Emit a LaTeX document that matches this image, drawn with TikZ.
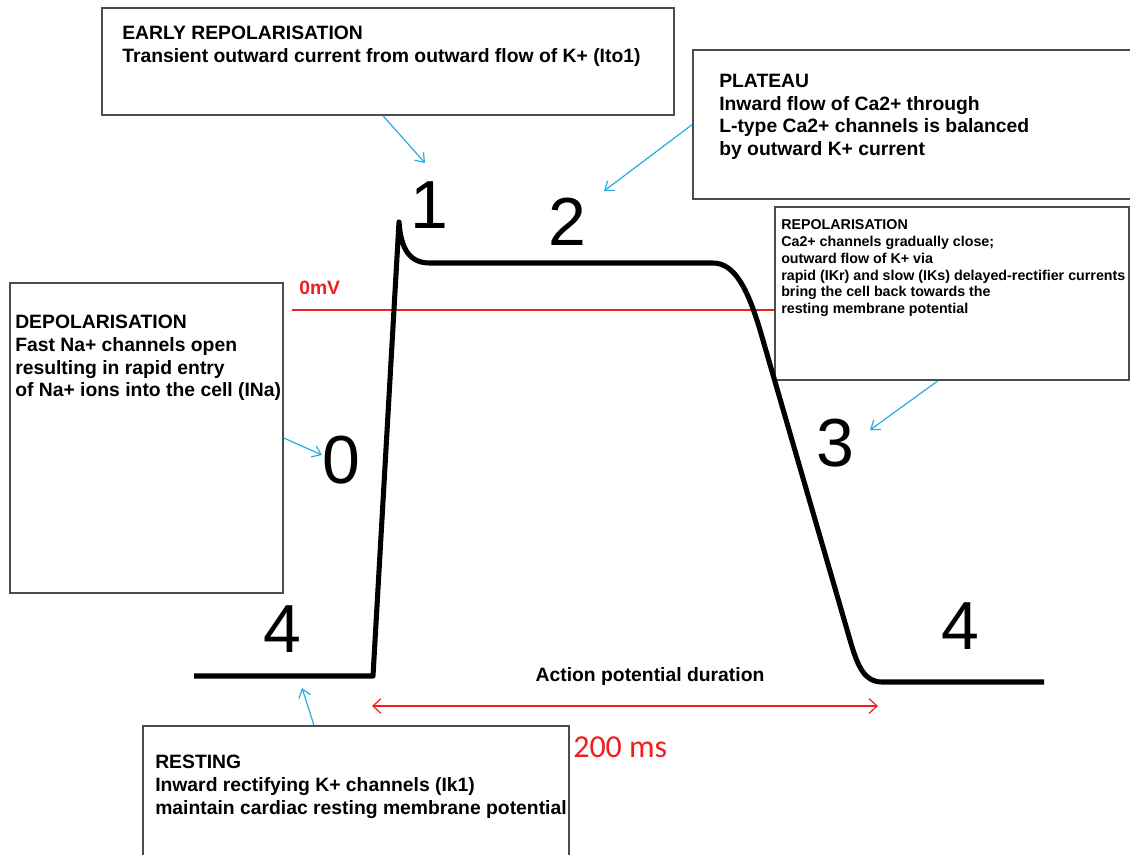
\documentclass[tikz,border=0pt]{standalone}
\usepackage{fontspec}
\setmainfont{Liberation Sans}
\newfontfamily\calibfont{Carlito}
\usetikzlibrary{arrows.meta,fit}
\definecolor{pointerblue}{RGB}{41,171,226}
\definecolor{markred}{RGB}{240,30,30}

\begin{document}
\begin{tikzpicture}[x=0.75pt, y=-0.75pt,
    box/.style={draw=black!70, line width=1.1pt, inner sep=0pt},
    boxtext/.style={anchor=north west, inner sep=0pt, align=left,
      font=\bfseries\fontsize{14.5}{17}\selectfont},
    smalltext/.style={anchor=north west, inner sep=0pt, align=left,
      font=\bfseries\fontsize{10.7}{12.7}\selectfont},
    phase/.style={inner sep=0pt, font=\fontsize{51}{51}\selectfont},
    pointer/.style={pointerblue, line width=0.9pt,
      -{Straight Barb[length=6pt,width=9pt]}},
    trace/.style={line width=3.8pt, line join=round}]
    \useasboundingbox (0,0) rectangle (1130,854);
    \clip (0,0) rectangle (1130,854);

    % Phase boxes
    \node[box, fit={(102,8) (674,115)}] (earlybox) {};
    \node[box, fit={(693,50) (1140,199)}] (platbox) {};
    \node[box, fit={(775,207) (1129,380)}] (repolbox) {};
    \node[box, fit={(10,283) (283,593)}] (depolbox) {};
    \node[box, fit={(143,726) (569,870)}] (restbox) {};

    % Box texts
    \node[boxtext] (earlytext) at (122,26) {EARLY REPOLARISATION\\
      Transient outward current from outward flow of K+ (Ito1)};
    \node[boxtext] (plattext) at (719,74) {PLATEAU\\
      Inward flow of Ca2+ through\\
      L-type Ca2+ channels is balanced\\
      by outward K+ current};
    \node[smalltext] (repoltext) at (781,219) {REPOLARISATION\\
      Ca2+ channels gradually close;\\
      outward flow of K+ via\\
      rapid (IKr) and slow (IKs) delayed-rectifier currents\\
      bring the cell back towards the\\
      resting membrane potential};
    \node[boxtext] (depoltext) at (15,315) {DEPOLARISATION\\
      Fast Na+ channels open\\
      resulting in rapid entry\\
      of Na+ ions into the cell (INa)};
    \node[boxtext] (resttext) at (155,755) {RESTING\\
      Inward rectifying K+ channels (Ik1)\\
      maintain cardiac resting membrane potential};

    % Zero line
    \coordinate (zeroleft) at (292,310);
    \draw[markred, line width=0.9pt] (zeroleft) -- (zeroleft -| repolbox.west);
    \node[anchor=south west, inner sep=0pt, text=markred,
      font=\bfseries\fontsize{14.5}{17}\selectfont] (zerolabel) at (299,295) {0mV};

    % Action potential trace
    \draw[trace] (194,676) -- (373,676) -- (399,222)
      .. controls (401,250) and (410,263) .. (430,263) -- (713,263)
      .. controls (735,263) and (748,290) .. (760,330) -- (850,640)
      .. controls (858,668) and (865,682) .. (882,682) -- (1044,682);

    % Phase numbers
    \node[phase] (ph1) at (429,205) {1};
    \node[phase] (ph2) at (567,222) {2};
    \node[phase] (ph0) at (341,460) {0};
    \node[phase] (ph3) at (835,443) {3};
    \node[phase] (ph4a) at (282,629) {4};
    \node[phase] (ph4b) at (960,626) {4};

    % Pointers
    \coordinate (earlytip) at (425,163);
    \coordinate (plattip) at (604,191);
    \coordinate (repoltip) at (870,430);
    \coordinate (depoltip) at (322,455);
    \coordinate (resttip) at (302,688);
    \draw[pointer] ([xshift=-3.75pt]earlybox.south) -- (earlytip);
    \draw[pointer] (platbox.west) -- (plattip);
    \draw[pointer] ([xshift=-10.5pt]repolbox.south) -- (repoltip);
    \draw[pointer] (depolbox.east) -- (depoltip);
    \draw[pointer] ([xshift=-31.5pt]restbox.north) -- (resttip);

    % Duration
    \node[font=\bfseries\fontsize{14.5}{17}\selectfont] (apd) at (650,676) {Action potential duration};
    \coordinate (apdleft) at (372,706);
    \coordinate (apdright) at (878,706);
    \draw[markred, line width=0.9pt, {Straight Barb[length=6pt,width=11pt]}-{Straight Barb[length=6pt,width=11pt]}] (apdleft) -- (apdright);
    \node[anchor=base west, inner sep=0pt, text=markred,
      font=\calibfont\fontsize{24}{24}\selectfont] (apdms) at (573,757) {200 ms};
\end{tikzpicture}
\end{document}
